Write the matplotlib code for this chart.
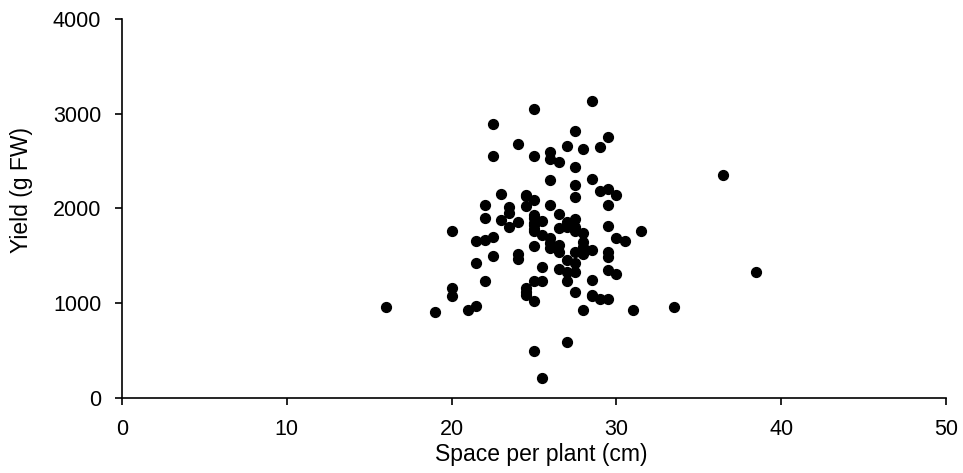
import matplotlib
matplotlib.use('Agg')
import matplotlib.pyplot as plt

# ----------- Dados -----------

espaco = [
    16, 19, 20, 20, 20, 21, 21.5, 21.5, 21.5,
    22, 22, 22, 22, 22.5, 22.5, 22.5, 22.5, 23, 23,
    23.5, 23.5, 23.5, 24, 24, 24, 24, 24.5, 24.5, 24.5, 24.5, 24.5, 24.5,
    25, 25, 25, 25, 25, 25, 25, 25, 25, 25, 25, 25, 25,
    25.5, 25.5, 25.5, 25.5, 25.5,
    26, 26, 26, 26, 26, 26, 26,
    26.5, 26.5, 26.5, 26.5, 26.5, 26.5,
    27, 27, 27, 27, 27, 27, 27,
    27.5, 27.5, 27.5, 27.5, 27.5, 27.5, 27.5, 27.5, 27.5, 27.5, 27.5,
    28, 28, 28, 28, 28, 28,
    28.5, 28.5, 28.5, 28.5, 28.5, 28.5,
    29, 29, 29,
    29.5, 29.5, 29.5, 29.5, 29.5, 29.5, 29.5, 29.5,
    30, 30, 30, 30.5, 31, 31.5, 33.5, 36.5, 38.5,
]
producao = [
    965, 905, 1760, 1160, 1075, 930, 1660, 1420, 975,
    2035, 1900, 1670, 1235, 2890, 2555, 1700, 1500, 2150, 1880,
    2015, 1955, 1800, 2680, 1860, 1520, 1470, 2140, 2030, 2130, 1160, 1120, 1085,
    3050, 2555, 2090, 1895, 1825, 1760, 1600, 1235, 1025, 500, 1850, 1780, 1930,
    1870, 1720, 1385, 1230, 210,
    2595, 2520, 2300, 2040, 1690, 1580, 1640,
    2495, 1940, 1790, 1615, 1545, 1365,
    2660, 1860, 1800, 1455, 1330, 1240, 595,
    2820, 2435, 2245, 2125, 1885, 1800, 1545, 1420, 1330, 1120, 1760,
    2625, 1740, 1650, 1590, 1515, 930,
    3135, 2310, 1560, 1245, 1085, 1075,
    2645, 2180, 1040,
    2750, 2210, 2040, 1810, 1545, 1490, 1350, 1040,
    2140, 1690, 1305, 1655, 925, 1760, 965, 2350, 1330,
]

# ----------- Gráfico -----------

plt.rcParams['font.family'] = ['Liberation Sans', 'DejaVu Sans']

fig = plt.figure(figsize=(9.63, 4.73), dpi=100)
ax = fig.add_axes([0.1267, 0.1586, 0.8556, 0.8012])

ax.scatter(espaco, producao, s=50, color='black', zorder=3)

ax.set_xlim(0, 50)
ax.set_ylim(0, 4000)
ax.set_xticks([0, 10, 20, 30, 40, 50])
ax.set_yticks([0, 1000, 2000, 3000, 4000])

ax.spines['top'].set_visible(False)
ax.spines['right'].set_visible(False)
ax.spines['left'].set_linewidth(1.2)
ax.spines['bottom'].set_linewidth(1.2)
ax.tick_params(direction='out', length=5, width=1.2, labelsize=15.5, colors='black', pad=10)

ax.set_xlabel('Space per plant (cm)', fontsize=16.5)
ax.set_ylabel('Yield (g FW)', fontsize=16.5)
ax.xaxis.set_label_coords(0.5085, -0.119)
ax.yaxis.set_label_coords(-0.108, 0.549)

fig.savefig('out.png', dpi=100)
